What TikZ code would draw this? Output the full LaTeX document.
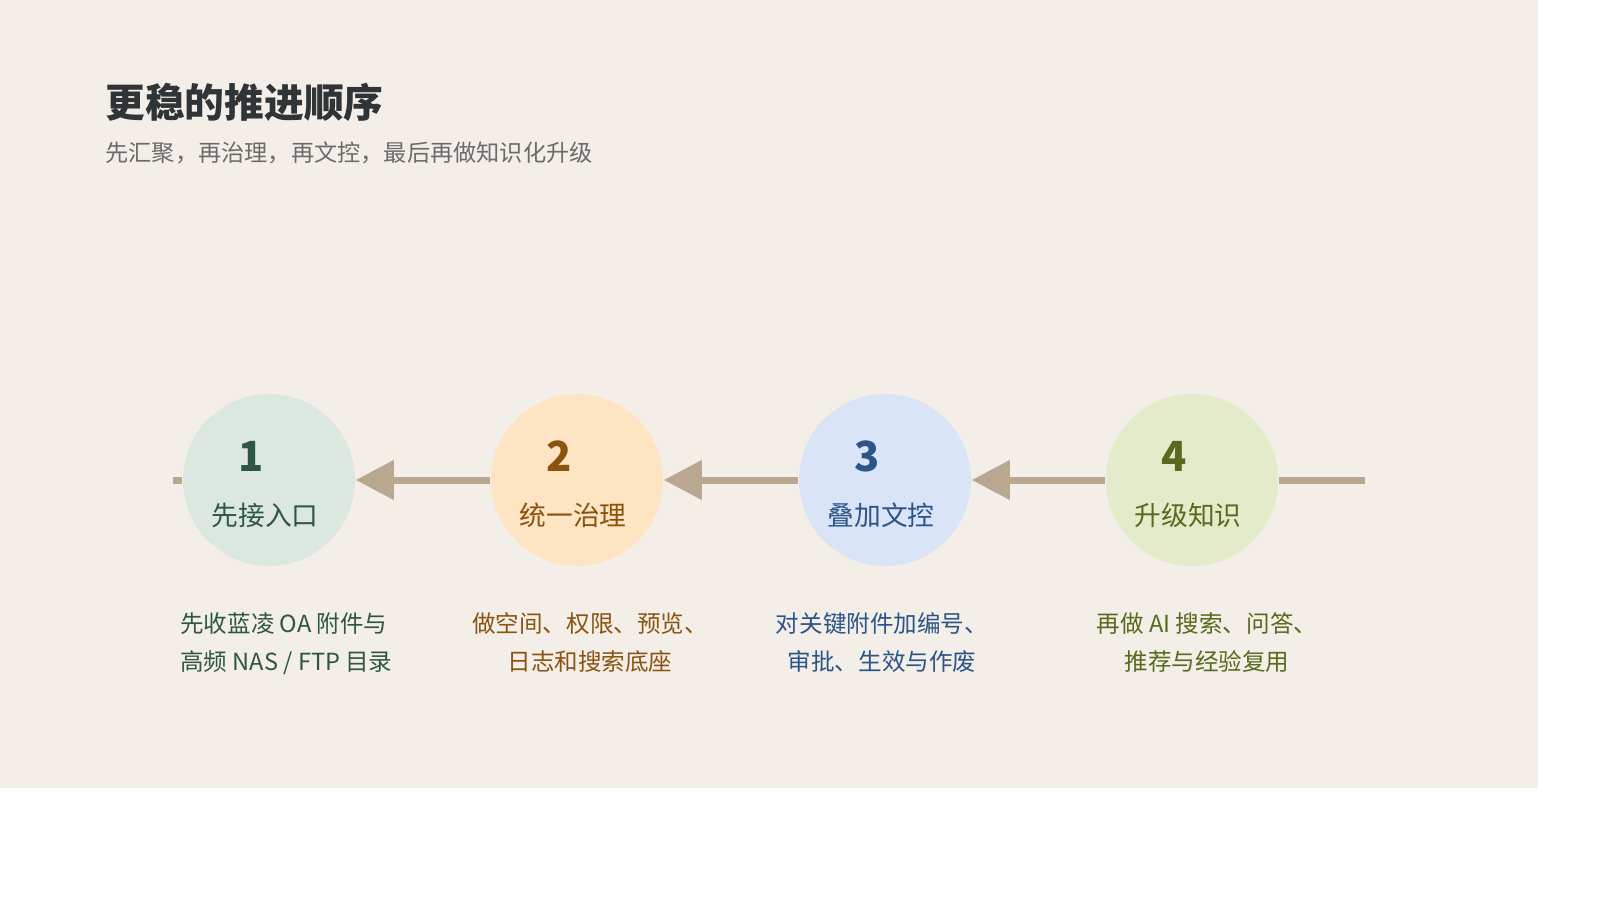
\documentclass[tikz,border=0pt]{standalone}
\usepackage{fontspec}
\setmainfont{Noto Sans CJK SC}
\usetikzlibrary{arrows.meta}
\definecolor{bg}{HTML}{F3EEE7}
\definecolor{rail}{HTML}{B9A78F}
\definecolor{ink}{HTML}{2F3437}
\definecolor{sub}{HTML}{6B6B6B}
\definecolor{fillA}{HTML}{DCE8DF}\definecolor{inkA}{HTML}{2E5646}
\definecolor{fillB}{HTML}{FDE4C3}\definecolor{inkB}{HTML}{8A5410}
\definecolor{fillC}{HTML}{D9E4F6}\definecolor{inkC}{HTML}{2B5487}
\definecolor{fillD}{HTML}{E3EBCB}\definecolor{inkD}{HTML}{576A1D}
\tikzset{
  stage/.style={circle,minimum size=172\pgfunit,inner sep=0pt},
  num/.style={font=\fontsize{11.8}{13}\selectfont\bfseries},
  lbl/.style={font=\fontsize{7.6}{9}\selectfont},
  desc/.style={font=\fontsize{6.7}{10.8}\selectfont,align=left},
  rail/.style={draw=rail,line width=7\pgfunit},
  flow/.style={rail,-{Triangle[length=38\pgfunit,width=38\pgfunit]}}
}
\newcommand{\pgfunit}{*0.2845pt}
\begin{document}
\begin{tikzpicture}[x=0.01cm,y=-0.01cm]
\useasboundingbox (0,0) rectangle (1600,900);
\fill[white] (0,0) rectangle (1600,900);
\fill[bg] (0,0) rectangle (1538,788);

\node[anchor=west,text=ink,font=\fontsize{11.3}{13}\selectfont\bfseries] (title) at (93,102) {更稳的推进顺序};
\node[anchor=west,text=sub,font=\fontsize{6.6}{8}\selectfont] (subtitle) at (93,153) {先汇聚，再治理，再文控，最后再做知识化升级};

\node[stage,fill=fillA] (s1) at (269,480) {};
\node[stage,fill=fillB] (s2) at (577,480) {};
\node[stage,fill=fillC] (s3) at (885,480) {};
\node[stage,fill=fillD] (s4) at (1192,480) {};

\coordinate (left) at (173,480);
\coordinate (right) at (1365,480);

\draw[rail] (left) -- (s1.west);
\draw[rail] (s4.east) -- (right);
\foreach \from/\to in {s2/s1, s3/s2, s4/s3}
  \draw[flow] (\from.west) -- (\to.east);

\foreach \s/\n/\t/\c in {s1/1/先接入口/inkA, s2/2/统一治理/inkB, s3/3/叠加文控/inkC, s4/4/升级知识/inkD}{
  \node[num,text=\c] (\s num) at ([xshift=-18\pgfunit,yshift=24\pgfunit]\s.center) {\n};
  \node[lbl,text=\c] (\s lbl) at ([xshift=-4\pgfunit,yshift=-35\pgfunit]\s.center) {\t};
}

\node[desc,text=inkA,anchor=north west] (d1) at (168,600) {先收蓝凌 OA 附件与\\高频 NAS / FTP 目录};
\node[desc,text=inkB,anchor=north,align=center] (d2) at (590,600) {做空间、权限、预览、\\日志和搜索底座};
\node[desc,text=inkC,anchor=north,align=center] (d3) at (882,600) {对关键附件加编号、\\审批、生效与作废};
\node[desc,text=inkD,anchor=north,align=center] (d4) at (1207,600) {再做 AI 搜索、问答、\\推荐与经验复用};
\end{tikzpicture}
\end{document}
